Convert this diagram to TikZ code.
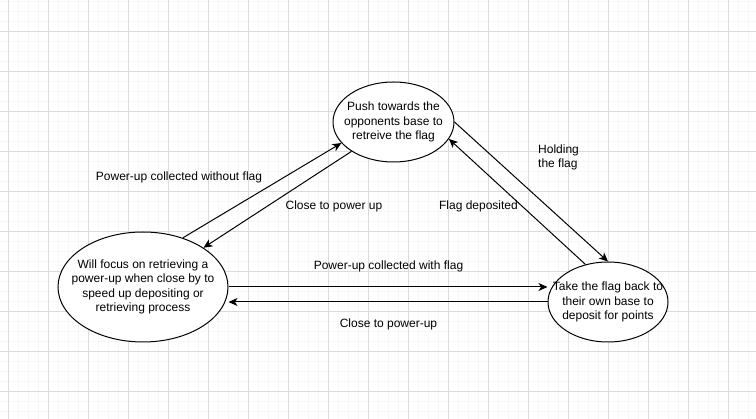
\documentclass[tikz,border=0pt]{standalone}
\usepackage{fontspec}
\setmainfont{Liberation Sans}
\usetikzlibrary{shapes.geometric, arrows.meta}

\begin{document}
\begin{tikzpicture}[
        x=1pt, y=-1pt, % Координаты в пикселях, ось y вниз
        state/.style={ellipse, draw, fill=white, line width=1pt, minimum height=80pt, inner sep=-20pt,
                align=center, font=\fontsize{12}{14.4}\selectfont}, % Стиль состояний
        lbl/.style={inner sep=0pt, font=\fontsize{12}{14.4}\selectfont}, % Подписи переходов
        link/.style={draw, line width=1pt, -{Stealth[length=9pt, width=8pt, inset=2.5pt]}},
        minorgrid/.style={draw=gray!6, line width=1pt},
        majorgrid/.style={draw=gray!28, line width=1pt},
    ]

    % Фон с сеткой
    \fill[white] (0,0) rectangle (756,419);
    \useasboundingbox (0,0) rectangle (756,419);
    \foreach \x in {8,18,...,748} \draw[minorgrid] (\x,0) -- (\x,419);
    \foreach \y in {2,12,...,412} \draw[minorgrid] (0,\y) -- (756,\y);
    \foreach \x in {8,48,...,728} \draw[majorgrid] (\x,0) -- (\x,419);
    \foreach \y in {32,72,...,392} \draw[majorgrid] (0,\y) -- (756,\y);

    % Состояния
    \node[state, minimum width=121pt] (push) at (393.5,122) {Push towards the\\opponents base to\\retreive the flag};
    \node[state, minimum width=170pt, minimum height=110pt] (focus) at (143,287) {Will focus on retrieving a\\power-up when close by to\\speed up depositing or\\retrieving process};
    \node[state, minimum width=120pt] (take) at (608,302) {Take the flag back to\\their own base to\\deposit for points};

    % Переходы
    \draw[link] (focus.51) -- (push.202);
    \draw[link] (push.215) -- (focus.33);
    \draw[link] (push.east) -- (take.north);
    \draw[link] (take.121) -- (push.343);
    \draw[link] (focus.east) -- (take.west |- focus.east);
    \draw[link] (take.west) -- (focus.east |- take.west);

    \node[lbl] (nofl) at (179,177) {Power-up collected without flag};
    \node[lbl] (closeup) at (334,206.5) {Close to power up};
    \node[lbl, align=left, anchor=west] (hold) at (538,157.5) {Holding\\the flag};
    \node[lbl] (depo) at (478.5,206.5) {Flag deposited};
    \node[lbl] (withfl) at (388.5,266) {Power-up collected with flag};
    \node[lbl] (closedown) at (388.5,324) {Close to power-up};
\end{tikzpicture}
\end{document}
